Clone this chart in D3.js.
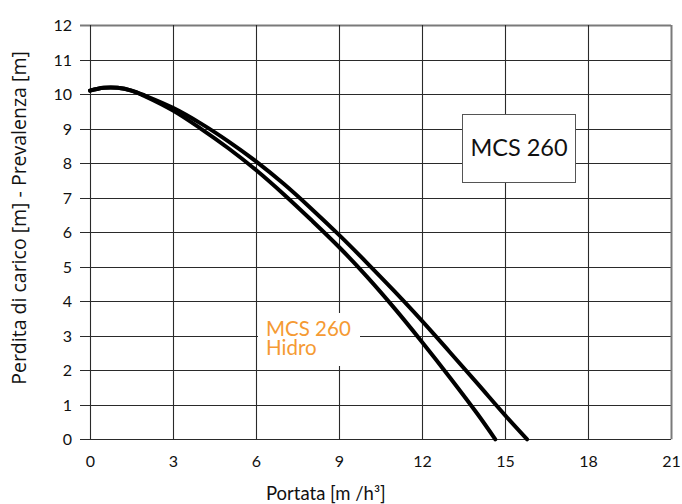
<!DOCTYPE html>
<html>
<head>
<meta charset="utf-8">
<script src="https://cdn.jsdelivr.net/npm/d3@7"></script>
<style>
  html, body { margin: 0; padding: 0; background: #fff; }
  svg { display: block; }
</style>
</head>
<body>
<svg id="chart" width="682" height="504"></svg>
<script>
// ---- Data ----
const xTicks = [0, 3, 6, 9, 12, 15, 18, 21];
const yTicks = [0, 1, 2, 3, 4, 5, 6, 7, 8, 9, 10, 11, 12];

const mcsFlow = [0, 0.5, 1, 1.5, 2, 3, 4, 5, 6, 7, 8, 9, 10, 11, 12, 13, 14, 15, 15.8];
const mcsHead = [10.1, 10.18, 10.18, 10.1, 9.95, 9.6, 9.15, 8.63, 8.05, 7.4, 6.68, 5.92, 5.12, 4.29, 3.43, 2.53, 1.62, 0.7, 0];

const hidroFlow = [0, 0.5, 1, 1.5, 2, 3, 4, 5, 6, 7, 8, 9, 10, 11, 12, 13, 14, 14.65];
const hidroHead = [10.1, 10.18, 10.18, 10.1, 9.93, 9.52, 9.0, 8.43, 7.8, 7.1, 6.35, 5.57, 4.72, 3.8, 2.82, 1.8, 0.74, 0];

const xTitle = "Portata [m /h³]";
const yTitle = "Perdita di carico [m] - Prevalenza [m]";
const boxLabel = "MCS 260";
const hidroLabel = ["MCS 260", "Hidro"];

// ---- Layout ----
const svg = d3.select("#chart");
const x = d3.scaleLinear().domain([0, 21]).range([90, 671]);
const y = d3.scaleLinear().domain([0, 12]).range([439.3, 25]);

const tickFont = "Lato, 'Open Sans', sans-serif";

// horizontal grid lines (with tick stubs to the left)
svg.selectAll("line.h").data(yTicks).join("line")
  .attr("x1", 80).attr("x2", x(21))
  .attr("y1", d => Math.round(y(d)) + 0.5).attr("y2", d => Math.round(y(d)) + 0.5)
  .attr("stroke", d => d === 12 ? "#7a7a7a" : "#2a2a2a")
  .attr("stroke-width", d => d === 12 ? 2 : 1.1);

// vertical grid lines
svg.selectAll("line.v").data(xTicks).join("line")
  .attr("x1", d => Math.round(x(d)) + 0.5).attr("x2", d => Math.round(x(d)) + 0.5)
  .attr("y1", y(12)).attr("y2", y(0))
  .attr("stroke", d => d === 21 ? "#7a7a7a" : "#2a2a2a")
  .attr("stroke-width", d => d === 21 ? 2 : 1.1);

// y tick labels via axis
const yAxis = d3.axisLeft(y).tickValues(yTicks).tickSize(0).tickPadding(0).tickFormat(d3.format("d"));
const yg = svg.append("g").attr("transform", "translate(72,0)").call(yAxis);
yg.select(".domain").remove();
yg.selectAll("text").attr("font-family", tickFont).attr("font-size", 16).attr("fill", "#111").attr("dy", "0.35em");

// x tick labels via axis
const xAxis = d3.axisBottom(x).tickValues(xTicks).tickSize(0).tickPadding(0).tickFormat(d3.format("d"));
const xg = svg.append("g").attr("transform", "translate(0,456)").call(xAxis);
xg.select(".domain").remove();
xg.selectAll("text").attr("font-family", tickFont).attr("font-size", 16).attr("fill", "#111").attr("dy", "0.71em");

// curves
const line = d3.line().x(d => x(d[0])).y(d => y(d[1])).curve(d3.curveCatmullRom.alpha(0.5));
const mcs = mcsFlow.map((f, i) => [f, mcsHead[i]]);
const hidro = hidroFlow.map((f, i) => [f, hidroHead[i]]);
[mcs, hidro].forEach(s => {
  svg.append("path").datum(s).attr("d", line)
    .attr("fill", "none").attr("stroke", "#000").attr("stroke-width", 4)
    .attr("stroke-linecap", "round").attr("stroke-linejoin", "round");
});

// MCS 260 box
svg.append("rect").attr("x", 462.5).attr("y", 114.5).attr("width", 113).attr("height", 68)
  .attr("fill", "#fff").attr("stroke", "#555").attr("stroke-width", 1);
svg.append("text").attr("x", 519).attr("y", 156).attr("text-anchor", "middle")
  .attr("font-family", tickFont).attr("font-size", 23.5).attr("fill", "#111").text(boxLabel);

// Hidro label
svg.append("rect").attr("x", 258).attr("y", 313).attr("width", 102).attr("height", 53).attr("fill", "#fff");
svg.append("text").attr("x", 266).attr("y", 336)
  .attr("font-family", tickFont).attr("font-size", 20.5).attr("fill", "#f59a33").text(hidroLabel[0]);
svg.append("text").attr("x", 266).attr("y", 355)
  .attr("font-family", tickFont).attr("font-size", 20.5).attr("fill", "#f59a33").text(hidroLabel[1]);

// x title
svg.append("text").attr("x", 266).attr("y", 500)
  .attr("font-family", tickFont).attr("font-size", 18.5).attr("fill", "#111").text(xTitle);

// y title
svg.append("text").attr("transform", "translate(26,218) rotate(-90)")
  .attr("text-anchor", "middle").attr("font-family", "'Open Sans', sans-serif")
  .attr("font-size", 19.5).attr("fill", "#111").text(yTitle);
</script>
</body>
</html>
